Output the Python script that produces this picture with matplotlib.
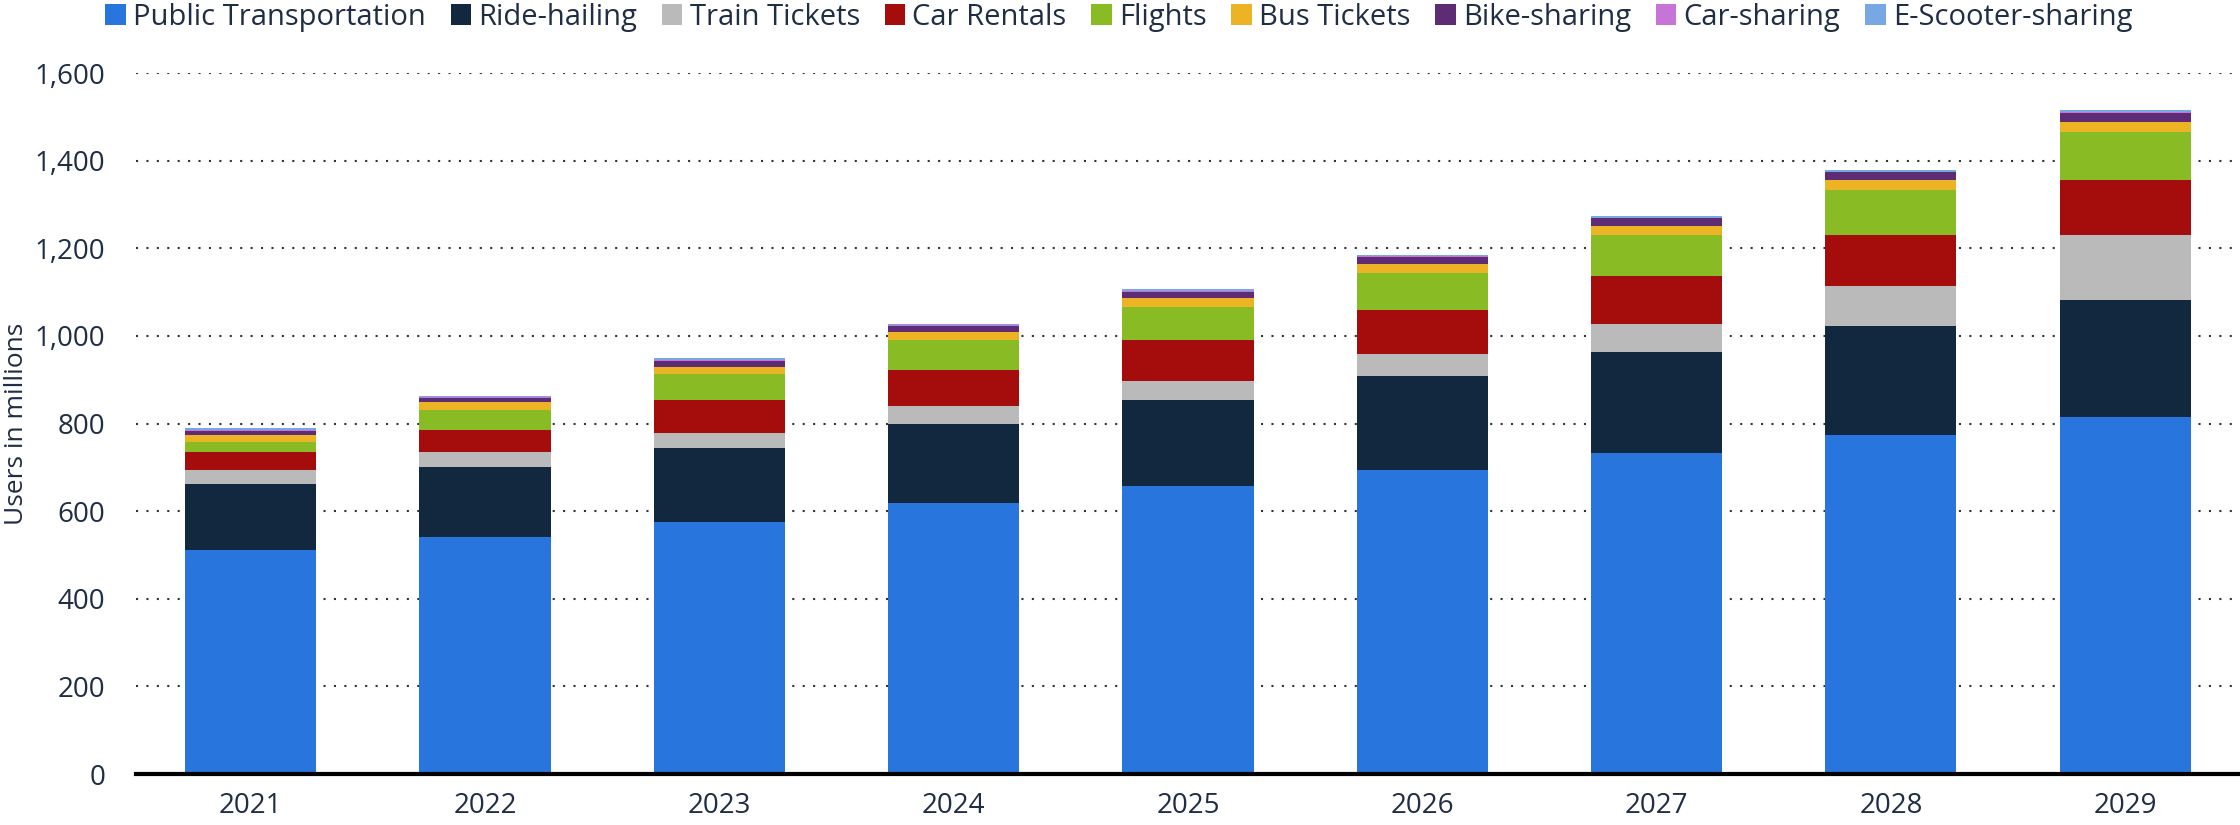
import matplotlib.pyplot as plt
from matplotlib.ticker import FuncFormatter

plt.rcParams['font.family'] = ['Open Sans', 'DejaVu Sans']

# Data
years = ['2021', '2022', '2023', '2024', '2025', '2026', '2027', '2028', '2029']
public_transport = [511, 542, 576, 618, 657, 694, 732, 773, 815]
ride_hailing = [152, 159, 168, 181, 197, 214, 231, 250, 268]
train_tickets = [32, 33, 34, 40, 44, 50, 64, 91, 148]
car_rentals = [40, 52, 75, 83, 92, 100, 109, 117, 125]
flights = [22, 45, 59, 68, 77, 86, 94, 101, 109]
bus_tickets = [17, 17, 18, 19, 19, 21, 21, 23, 24]
bike_sharing = [10, 11, 13, 14, 15, 15, 17, 18, 20]
car_sharing = [1.5, 1.5, 2, 2, 2, 2, 2, 2, 2]
escooter_sharing = [4, 3, 3.5, 3, 5, 3.5, 4.5, 3.5, 4]

series = [
    ('Public Transportation', public_transport, '#2876dd'),
    ('Ride-hailing', ride_hailing, '#12283f'),
    ('Train Tickets', train_tickets, '#bababa'),
    ('Car Rentals', car_rentals, '#a50c0c'),
    ('Flights', flights, '#88bb24'),
    ('Bus Tickets', bus_tickets, '#ecb424'),
    ('Bike-sharing', bike_sharing, '#5e2b75'),
    ('Car-sharing', car_sharing, '#c774d9'),
    ('E-Scooter-sharing', escooter_sharing, '#77a8e3'),
]

text_color = '#1f2d45'

fig = plt.figure(figsize=(22.4, 8.25), dpi=100)
ax = fig.add_axes([0.0607, 0.0618, 0.9393, 0.8497])

x = list(range(len(years)))
bottom = [0] * len(years)
for name, vals, color in series:
    ax.bar(x, vals, bottom=bottom, width=0.56, color=color, label=name, zorder=3)
    bottom = [b + v for b, v in zip(bottom, vals)]

ax.set_xlim(-0.49, len(years) - 0.51)
ax.set_ylim(0, 1600)
ax.set_yticks(range(0, 1601, 200))
ax.yaxis.set_major_formatter(FuncFormatter(lambda v, p: f'{int(v):,}'))
ax.set_xticks(x)
ax.set_xticklabels(years)

ax.grid(axis='y', linestyle=(0, (1, 4)), linewidth=1.5, color='#333333', zorder=0)
for s in ['top', 'right', 'left']:
    ax.spines[s].set_visible(False)
ax.spines['bottom'].set_linewidth(3)
ax.spines['bottom'].set_color('black')
ax.spines['bottom'].set_zorder(5)

ax.tick_params(axis='both', length=0, labelsize=20, labelcolor=text_color)
ax.tick_params(axis='x', pad=13)
ax.tick_params(axis='y', pad=22)
ax.set_ylabel('Users in millions', fontsize=19, color=text_color, labelpad=4)

handles, labels = ax.get_legend_handles_labels()
fig.legend(handles, labels, loc='center left', bbox_to_anchor=(0.047, 0.979), ncol=9,
           frameon=False, fontsize=21, labelcolor=text_color, handlelength=0.7,
           handleheight=0.7, handletextpad=0.25, columnspacing=0.85, borderaxespad=0,
           borderpad=0)

fig.savefig('out.png', dpi=100)
